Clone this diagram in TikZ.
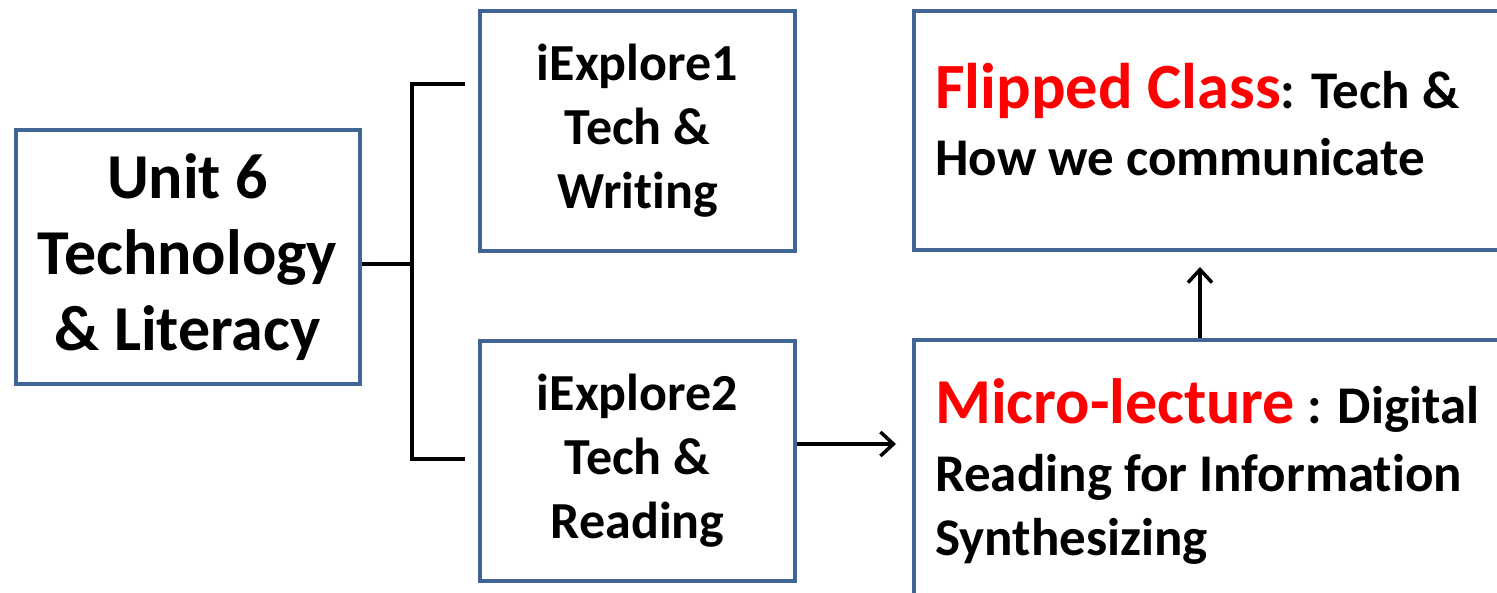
\documentclass[tikz,border=0pt]{standalone}
\usepackage{fontspec}
\setmainfont{Carlito}[Ligatures=NoCommon]
\usetikzlibrary{arrows.meta,calc}
\definecolor{boxblue}{RGB}{64,100,148}
\definecolor{hired}{RGB}{255,0,0}
\begin{document}
\begin{tikzpicture}[x=1pt,y=-1pt,
  box/.style={draw=boxblue,line width=4pt,rectangle,inner sep=0pt,align=center},
  wire/.style={line width=4pt,black},
  arr/.style={line width=3.5pt,black,-{Straight Barb[length=13pt,width=24pt]}},
  txt/.style={anchor=base west,inner sep=0pt,font=\bfseries\fontsize{53}{64}\selectfont},
  redpart/.style={},
  bigfont/.style={font=\bfseries\fontsize{64}{76}\selectfont},
  midfont/.style={font=\bfseries\fontsize{52}{64}\selectfont}
]
\useasboundingbox (0,0) rectangle (1497,593);
\clip (0,0) rectangle (1497,593);
\node[box,bigfont,minimum width=344pt,minimum height=254pt] (unit) at (187.5,257.5) {Unit 6\\Technology\\\& Literacy};
\node[box,midfont,minimum width=315pt,minimum height=240pt] (iE1) at (637.5,131) {iExplore1\\Tech \&\\Writing};
\node[box,midfont,minimum width=315pt,minimum height=240pt] (iE2) at (637.5,461) {iExplore2\\Tech \&\\Reading};
\node[box,minimum width=606pt,minimum height=239pt] (flip) at (1217,130.5) {};
\node[box,minimum width=606pt,minimum height=300pt] (micro) at (1217,490) {};
\node[txt] (f1) at (935,109) {{\color{hired}\fontsize{64.5}{64}\selectfont Flipped Class}: Tech \&};
\node[txt] (f2) at (935,176) {How we communicate};
\node[txt] (m1) at (935,424) {{\color{hired}\fontsize{64}{64}\selectfont Micro-lecture} : Digital};
\node[txt] (m2) at (935,491) {Reading for Information};
\node[txt] (m3) at (935,555) {Synthesizing};
\coordinate (j) at (412,264);
\coordinate (b1) at (465,84);
\coordinate (b2) at (465,459);
\draw[wire] (unit.east |- j) -- (j);
\draw[wire] (b1) -| (j |- b2) -- (b2);
\coordinate (ah) at (0,444);
\draw[arr,shorten >=16pt] (iE2.east |- ah) -- (micro.west |- ah);
\coordinate (av) at (1200,0);
\draw[arr,shorten >=15pt] (micro.north -| av) -- (flip.south -| av);
\end{tikzpicture}
\end{document}
